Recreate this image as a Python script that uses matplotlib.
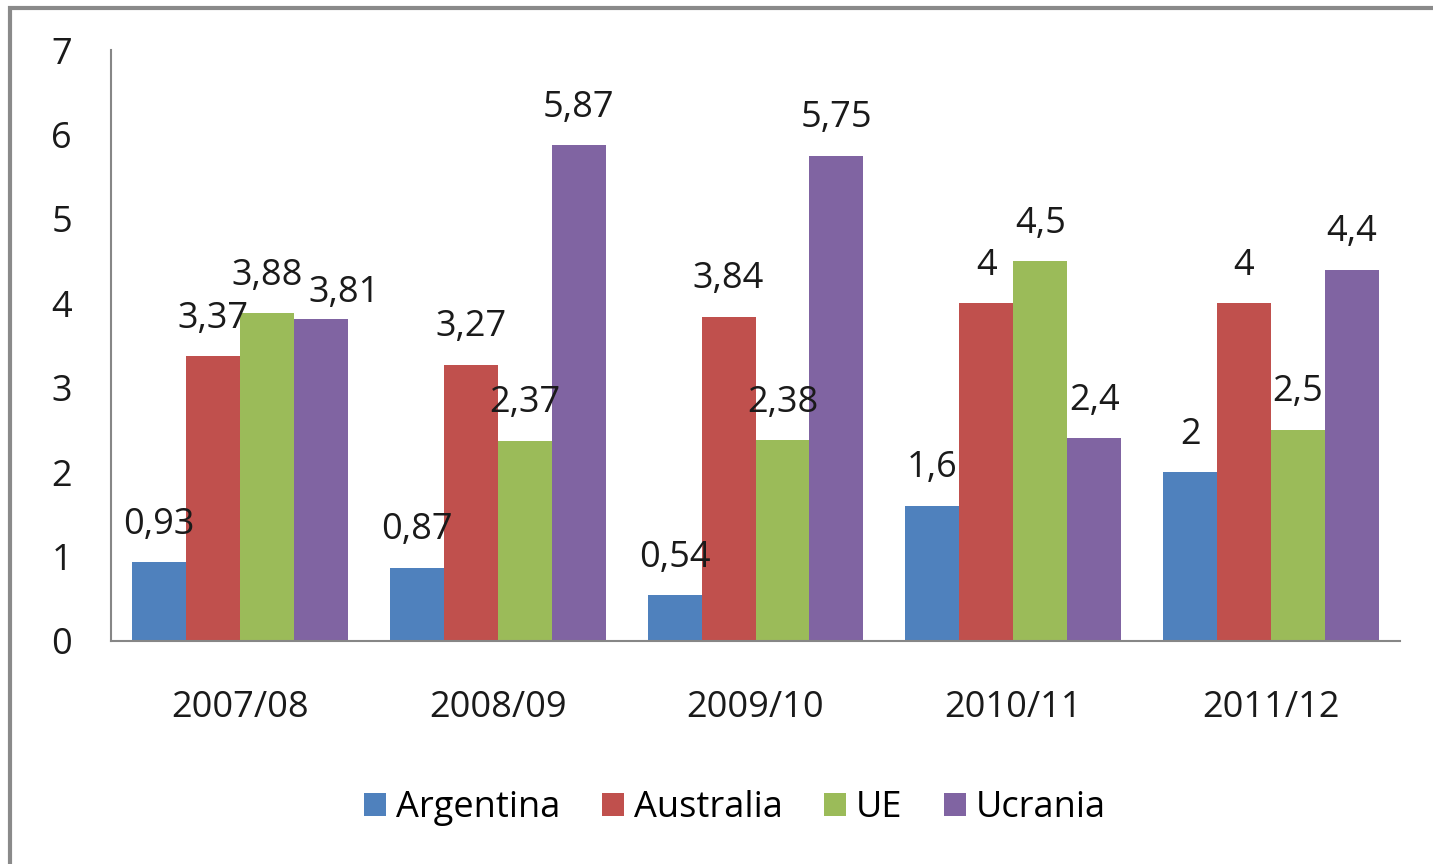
import numpy as np
import matplotlib
matplotlib.use("Agg")
from matplotlib import pyplot as plt
from matplotlib.patches import Rectangle

plt.rcParams['font.family'] = ['Open Sans', 'DejaVu Sans']

# data
seasons = ['2007/08', '2008/09', '2009/10', '2010/11', '2011/12']
argentina = [0.93, 0.87, 0.54, 1.6, 2]
australia = [3.37, 3.27, 3.84, 4, 4]
ue = [3.88, 2.37, 2.38, 4.5, 2.5]
ucrania = [3.81, 5.87, 5.75, 2.4, 4.4]

series = [('Argentina', argentina, '#4F81BD'),
          ('Australia', australia, '#C0504D'),
          ('UE', ue, '#9BBB59'),
          ('Ucrania', ucrania, '#8064A2')]

# label nudges (points) where labels would collide, like Excel did
nudge = {('Ucrania', 0): (17, -8)}

fig = plt.figure(figsize=(14.33, 8.64), dpi=100)
ax = fig.add_axes([111 / 1433, 223 / 864, (1400 - 111) / 1433, (641 - 50) / 864])

# outer chart border
fig.patches.append(Rectangle((10 / 1433, -0.1), 1.2, 0.1 + (864 - 8) / 864,
                             transform=fig.transFigure, fill=False,
                             edgecolor='#8a8a8a', linewidth=3))

x = np.arange(len(seasons))
w = 0.2093
fs = 26

for i, (name, vals, col) in enumerate(series):
    pos = x + (i - 1.5) * w
    ax.bar(pos, vals, width=w, color=col, label=name)
    for j, (px, v) in enumerate(zip(pos, vals)):
        txt = ('%g' % v).replace('.', ',')
        dx, dy = nudge.get((name, j), (0, 0))
        ax.annotate(txt, (px, v), xytext=(dx, 27 + dy), textcoords='offset points',
                    ha='center', va='center', fontsize=fs, color='#1a1a1a')

ax.set_xlim(-0.5, 4.5)
ax.set_ylim(0, 7)
ax.set_yticks(range(0, 8))
ax.set_xticks(x)
ax.set_xticklabels(seasons)
ax.tick_params(axis='both', length=0, labelsize=fs, colors='#1a1a1a')
ax.tick_params(axis='y', pad=28)
ax.tick_params(axis='x', pad=35)

for s in ['top', 'right']:
    ax.spines[s].set_visible(False)
for s in ['left', 'bottom']:
    ax.spines[s].set_color('#868686')
    ax.spines[s].set_linewidth(1.5)

fig.legend(loc='center', bbox_to_anchor=(735 / 1433, 56 / 864), ncol=4,
           frameon=False, fontsize=fs, handlelength=0.6, handleheight=0.6,
           handletextpad=0.28, columnspacing=1.15)

fig.savefig('out.png', dpi=100)
